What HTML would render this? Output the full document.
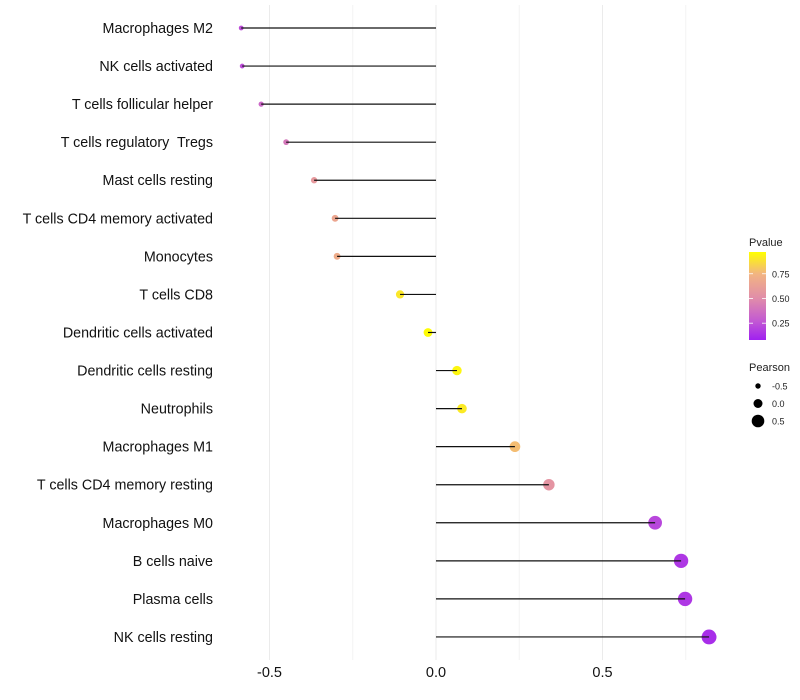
<!DOCTYPE html>
<html><head><meta charset="utf-8">
<style>
html,body{margin:0;padding:0;background:#fff;}
svg{display:block;font-family:"Liberation Sans",sans-serif;}
svg text{white-space:pre;}
</style></head>
<body>
<svg id="chart" width="800" height="700" viewBox="0 0 800 700">
<defs>
<linearGradient id="pgrad" x1="0" y1="1" x2="0" y2="0">
<stop offset="0" stop-color="#a020f0"/>
<stop offset="0.22" stop-color="#c35ad2"/>
<stop offset="0.47" stop-color="#e08caa"/>
<stop offset="0.75" stop-color="#f2b482"/>
<stop offset="1" stop-color="#ffff00"/>
</linearGradient>
</defs>
<g id="grid"></g>
<g id="marks"></g>
<g id="ylabels"></g>
<g id="xlabels"></g>
<g>
<text x="749" y="246" font-size="11" fill="#222">Pvalue</text>
<rect x="749" y="252" width="17" height="88" fill="url(#pgrad)"/>
<g id="cbticks"></g>
</g>
<g id="sizelegend">
<text x="749" y="371" font-size="11" fill="#222">Pearson</text>
</g>
</svg>
<script>
const categories=["Macrophages M2","NK cells activated","T cells follicular helper","T cells regulatory  Tregs","Mast cells resting","T cells CD4 memory activated","Monocytes","T cells CD8","Dendritic cells activated","Dendritic cells resting","Neutrophils","Macrophages M1","T cells CD4 memory resting","Macrophages M0","B cells naive","Plasma cells","NK cells resting"];
const pearson=[-0.585,-0.582,-0.525,-0.45,-0.366,-0.303,-0.297,-0.108,-0.024,0.063,0.078,0.237,0.339,0.658,0.736,0.748,0.82];
const pvalue=[0.2,0.2,0.32,0.4,0.58,0.66,0.7,0.92,0.99,0.97,0.93,0.78,0.55,0.17,0.1,0.1,0.06];
const xTicks=[-0.5,0,0.5];
const xTickLabels=["-0.5","0.0","0.5"];
const cbTicks=[0.25,0.5,0.75];
const cbTickLabels=["0.25","0.50","0.75"];
const sizeBreaks=[-0.5,0,0.5];
const sizeLabels=["-0.5","0.0","0.5"];

const NS="http://www.w3.org/2000/svg";
function mk(tag,attrs,parent){const e=document.createElementNS(NS,tag);for(const k in attrs)e.setAttribute(k,attrs[k]);parent.appendChild(e);return e;}
const x=v=>436+v*333;
const y=i=>28+i*38.06;
const r=v=>4.5+v*3.6;
function lerp(a,b,t){return a+(b-a)*t;}
const stops=[[0,[160,32,240]],[0.25,[195,90,210]],[0.5,[224,140,170]],[0.75,[242,180,130]],[1,[255,255,0]]];
function col(p){for(let i=1;i<stops.length;i++){if(p<=stops[i][0]){const t=(p-stops[i-1][0])/(stops[i][0]-stops[i-1][0]);const a=stops[i-1][1],b=stops[i][1];return `rgb(${Math.round(lerp(a[0],b[0],t))},${Math.round(lerp(a[1],b[1],t))},${Math.round(lerp(a[2],b[2],t))})`;}}return "rgb(255,255,0)";}
const cy=p=>340-(p-0.08)/(0.97-0.08)*88;

const grid=document.getElementById('grid');
[-0.5,-0.25,0,0.25,0.5,0.75].forEach(v=>{
const l=mk('line',{x1:x(v),x2:x(v),y1:5,y2:660,stroke:(v*100)%50===0?'#ebebeb':'#f4f4f4','stroke-width':1},grid);


});
const marks=document.getElementById('marks');
const yl=document.getElementById('ylabels');
categories.forEach((c,i)=>{
const d=mk('circle',{cx:x(pearson[i]),cy:y(i),r:r(pearson[i]),fill:col(pvalue[i])},marks);


const l=mk('line',{x1:x(0),x2:x(pearson[i]),y1:y(i),y2:y(i),stroke:'#111','stroke-width':1.2},marks);


const t=mk('text',{x:213,y:y(i)+5,'text-anchor':'end','font-size':14.3,fill:'#111'},yl);
t.textContent=c;


});
const xl=document.getElementById('xlabels');
xTicks.forEach((v,i)=>{
const t=mk('text',{x:x(v),y:677,'text-anchor':'middle','font-size':14.5,fill:'#111'},xl);
t.textContent=xTickLabels[i];


});
const cb=document.getElementById('cbticks');
cbTicks.forEach((v,i)=>{
const ty=cy(v);
const a=mk('line',{x1:749,x2:753,y1:ty,y2:ty,stroke:'#fff','stroke-width':0.8},cb);


const b=mk('line',{x1:762,x2:766,y1:ty,y2:ty,stroke:'#fff','stroke-width':0.8},cb);


const t=mk('text',{x:772,y:ty+3.5,'font-size':9,fill:'#222'},cb);
t.textContent=cbTickLabels[i];


});
const sl=document.getElementById('sizelegend');
sizeBreaks.forEach((v,i)=>{
const yy=386+i*17.5;
const c=mk('circle',{cx:758,cy:yy,r:r(v),fill:'#000'},sl);


const t=mk('text',{x:772,y:yy+3.5,'font-size':9,fill:'#222'},sl);
t.textContent=sizeLabels[i];


});
</script>
</body></html>
